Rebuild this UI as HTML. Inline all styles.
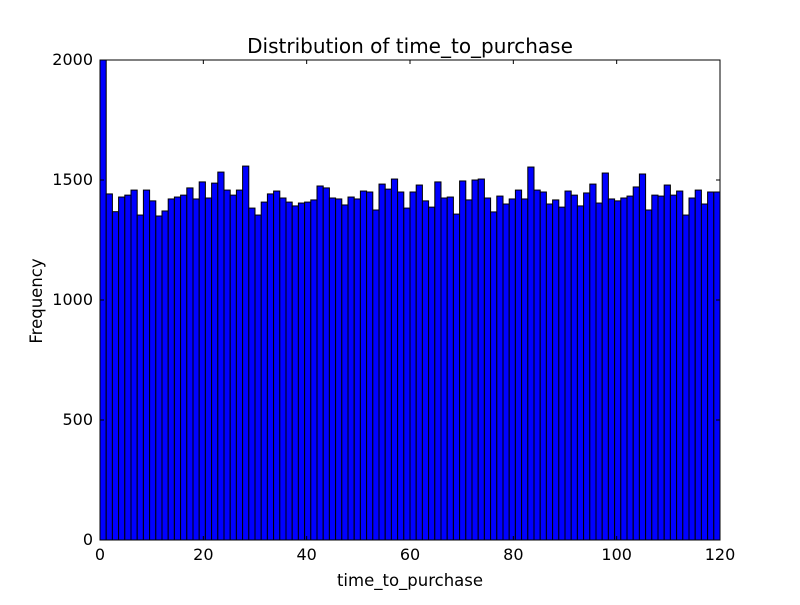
<!DOCTYPE html>
<html><head><meta charset="utf-8"><style>
body{margin:0;background:#fff;}
svg text{font-family:"DejaVu Sans","Liberation Sans",sans-serif;fill:#000;}
</style></head><body>
<svg id="chart" width="800" height="600" xmlns="http://www.w3.org/2000/svg">
<rect width="800" height="600" fill="#fff"/>
<defs><clipPath id="plotclip"><rect x="100" y="60" width="620" height="480"/></clipPath></defs>
<g id="bars" clip-path="url(#plotclip)"></g>
<g id="axes"></g>
<text x="410" y="53" font-size="20" text-anchor="middle">Distribution of time_to_purchase</text>
<text x="410" y="586" font-size="16.5" text-anchor="middle">time_to_purchase</text>
<text x="42" y="301" font-size="16.5" text-anchor="middle" transform="rotate(-90 42 301)">Frequency</text>
</svg>
<script>
const counts = [2100,1442,1368,1429,1437,1458,1354,1458,1413,1350,1371,1421,1429,1437,1467,1421,1492,1425,1487,1533,1458,1437,1458,1558,1383,1354,1408,1442,1454,1425,1408,1392,1404,1408,1417,1475,1467,1425,1421,1396,1429,1421,1454,1450,1375,1483,1462,1504,1450,1383,1450,1479,1413,1387,1492,1425,1429,1358,1496,1417,1500,1504,1425,1367,1433,1400,1421,1458,1421,1554,1458,1450,1400,1417,1387,1454,1437,1392,1446,1483,1404,1529,1421,1413,1425,1433,1471,1525,1375,1437,1433,1479,1437,1454,1354,1425,1458,1400,1450,1450];
const xTicks = [0,20,40,60,80,100,120];
const yTicks = [0,500,1000,1500,2000];
const xMin=0,xMax=120,yMin=0,yMax=2000;
const L=100,R=720,T=60,B=540;
const sx=v=>L+(v-xMin)/(xMax-xMin)*(R-L);
const sy=v=>B-(v-yMin)/(yMax-yMin)*(B-T);
const NS="http://www.w3.org/2000/svg";
const bars=document.getElementById('bars');
const bw=(xMax-xMin)/counts.length;
counts.forEach((c,i)=>{
  const r=document.createElementNS(NS,'rect');
  const x0=sx(xMin+i*bw),x1=sx(xMin+(i+1)*bw);
  r.setAttribute('x',x0);r.setAttribute('width',x1-x0);
  r.setAttribute('y',sy(c));r.setAttribute('height',sy(0)-sy(c));
  r.setAttribute('fill','#0000ff');r.setAttribute('stroke','#000');r.setAttribute('stroke-width','1');
  
  
  bars.appendChild(r);
});
const axes=document.getElementById('axes');
const frame=document.createElementNS(NS,'rect');
frame.setAttribute('x',L);frame.setAttribute('y',T);frame.setAttribute('width',R-L);frame.setAttribute('height',B-T);
frame.setAttribute('fill','none');frame.setAttribute('stroke','#000');frame.setAttribute('stroke-width','1');


axes.appendChild(frame);
function line(x1,y1,x2,y2){const l=document.createElementNS(NS,'line');l.setAttribute('x1',x1);l.setAttribute('y1',y1);l.setAttribute('x2',x2);l.setAttribute('y2',y2);l.setAttribute('stroke','#000');axes.appendChild(l);return l;}
xTicks.forEach(t=>{
  const x=sx(t);
  const a=line(x,B,x,B-4);
  
  
  const b=line(x,T,x,T+4);
  
  
  const tx=document.createElementNS(NS,'text');
  tx.setAttribute('x',x);tx.setAttribute('y',B+20);tx.setAttribute('font-size','16');tx.setAttribute('text-anchor','middle');
  tx.textContent=t;
  
  
  axes.appendChild(tx);
});
yTicks.forEach(t=>{
  const y=sy(t);
  const a=line(L,y,L+4,y);
  
  
  const b=line(R,y,R-4,y);
  
  
  const tx=document.createElementNS(NS,'text');
  tx.setAttribute('x',L-7);tx.setAttribute('y',y+5);tx.setAttribute('font-size','16');tx.setAttribute('text-anchor','end');
  tx.textContent=t;
  
  
  axes.appendChild(tx);
});
</script>
</body></html>
